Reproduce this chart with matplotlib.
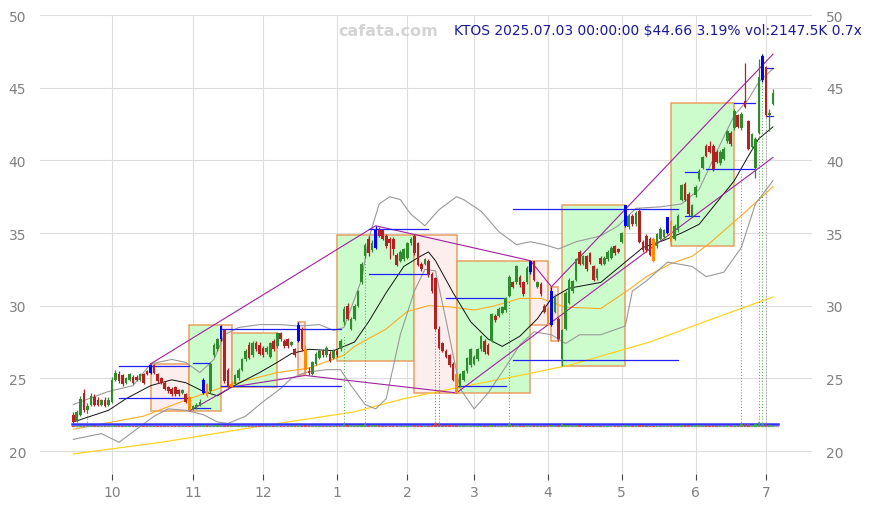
import numpy as np
import pandas as pd
import matplotlib
matplotlib.use('Agg')
import matplotlib.pyplot as plt
from matplotlib.patches import Rectangle

# daily OHLC, Sep 16 2024 .. Jul 3 2025 (one row per month)
opens = [
    22.5, 22.1, 22.5, 24.0, 22.8, 23.2, 23.7, 23.5, 23.2, 23.5, 23.2,
    23.4, 24.9, 25.3, 25.2, 24.7, 24.9, 25.1, 25.1, 24.9, 25.3, 25.5, 25.4, 25.9, 25.3, 25.0, 24.7, 24.4, 24.3, 24.4, 24.2, 24.0, 23.9, 23.7,
    22.9, 23.0, 23.2, 24.0, 24.6, 24.1, 26.6, 27.0, 27.7, 28.3, 25.6, 24.4, 24.6, 25.0, 25.6, 26.3, 27.3, 26.6, 27.4, 27.3,
    27.1, 26.8, 26.5, 27.6, 27.2, 28.1, 27.6, 27.7, 27.3, 27.0, 27.6, 28.3, 27.0, 25.5, 25.3, 26.0, 26.4, 26.9, 26.6, 26.7, 26.4,
    26.9, 27.0, 28.9, 30.0, 28.4, 29.1, 30.0, 31.6, 33.4, 34.6, 33.8, 34.0, 35.2, 35.2, 34.8, 34.6, 34.6, 33.5, 33.1, 33.2,
    33.3, 34.3, 34.8, 34.3, 32.9, 32.9, 33.1, 32.2, 31.9, 28.4, 27.4, 26.9, 26.6, 26.0, 25.3, 24.5, 24.9, 25.5, 25.9,
    26.0, 26.3, 27.0, 27.6, 27.3, 27.6, 29.3, 29.3, 29.5, 29.7, 30.7, 31.6, 31.6, 32.0, 31.6, 31.6, 32.3, 33.1, 31.3, 31.5, 30.0,
    29.8, 28.7, 29.6, 29.1, 26.3, 28.4, 30.2, 31.0, 31.8, 33.7, 32.9, 33.4, 33.6, 32.7, 31.9, 33.3, 32.9, 33.2, 33.3, 34.1, 33.9,
    34.4, 35.5, 35.4, 36.2, 35.6, 36.5, 34.4, 34.8, 34.6, 34.6, 34.1, 34.6, 34.7, 35.0, 35.8, 34.6, 35.2, 37.3, 38.4, 37.7, 36.2,
    37.6, 38.7, 39.5, 41.0, 41.0, 41.0, 40.6, 39.8, 40.1, 41.3, 41.9, 42.2, 43.1, 42.2, 44.1, 42.7, 40.9, 39.5, 41.9, 45.5,
    46.4, 43.1, 43.9]
highs = [
    22.7, 22.8, 23.8, 24.3, 23.3, 24.0, 23.9, 23.7, 23.6, 23.7, 23.7,
    25.1, 25.6, 25.5, 25.3, 25.1, 25.4, 25.2, 25.2, 25.4, 25.4, 25.6, 26.0, 26.0, 25.4, 25.1, 24.8, 24.5, 24.4, 24.5, 24.3, 24.3, 24.0, 23.8,
    23.2, 23.3, 23.6, 25.0, 24.7, 26.1, 27.4, 27.8, 28.7, 28.4, 25.7, 24.8, 25.3, 25.7, 26.4, 27.0, 27.5, 27.6, 27.6, 27.5,
    27.2, 27.2, 27.5, 27.7, 28.2, 28.2, 27.7, 27.8, 27.6, 27.1, 28.9, 28.5, 27.3, 25.8, 26.2, 26.8, 27.0, 27.0, 27.2, 26.9, 27.0,
    27.0, 27.7, 30.0, 30.2, 29.2, 30.1, 31.1, 33.0, 34.3, 34.8, 34.5, 35.5, 35.4, 35.3, 34.9, 34.7, 34.7, 33.6, 33.8, 34.0,
    34.4, 34.7, 34.9, 34.4, 33.0, 33.3, 33.2, 32.3, 32.0, 28.6, 27.5, 27.0, 26.7, 26.1, 25.4, 25.4, 25.6, 26.5, 27.1,
    26.6, 27.1, 28.0, 27.7, 27.4, 29.5, 29.4, 29.9, 30.0, 30.6, 32.1, 31.7, 32.8, 32.1, 31.7, 32.7, 33.1, 33.1, 31.7, 31.6, 30.1,
    29.9, 31.3, 30.8, 29.2, 28.4, 31.0, 31.9, 31.8, 33.3, 33.8, 33.5, 33.5, 33.7, 32.8, 32.6, 33.4, 33.4, 33.8, 34.1, 34.2, 34.0,
    35.1, 36.9, 36.3, 36.3, 36.5, 36.7, 34.5, 34.9, 34.7, 34.7, 35.0, 35.4, 35.3, 36.1, 35.9, 35.6, 36.3, 38.4, 38.5, 37.8, 37.0,
    38.3, 39.4, 40.3, 41.1, 41.3, 41.1, 40.7, 40.7, 40.9, 42.1, 42.0, 43.5, 43.2, 43.3, 46.7, 42.8, 41.9, 41.6, 47.0, 47.3,
    46.5, 43.5, 44.9]
lows = [
    21.9, 22.0, 22.4, 22.7, 22.6, 23.1, 23.1, 23.1, 23.1, 23.0, 23.1,
    23.3, 24.8, 24.7, 24.5, 24.6, 24.8, 24.6, 24.8, 24.8, 24.6, 25.2, 25.3, 25.3, 24.7, 24.6, 24.2, 24.0, 23.8, 23.8, 23.8, 23.9, 23.3, 22.75,
    22.8, 22.9, 23.1, 23.9, 23.7, 24.0, 26.5, 26.9, 27.6, 24.7, 24.4, 24.4, 24.5, 24.9, 25.5, 26.2, 26.3, 26.5, 26.9, 26.6,
    26.5, 26.7, 26.4, 26.9, 27.1, 27.6, 27.1, 27.1, 27.2, 26.5, 27.5, 26.9, 25.2, 25.25, 25.25, 25.9, 26.3, 26.5, 26.5, 26.1, 26.3,
    26.5, 26.9, 28.7, 29.0, 28.3, 29.0, 29.9, 31.5, 33.3, 33.4, 33.7, 33.9, 34.7, 34.5, 34.0, 33.2, 33.5, 32.7, 33.0, 33.1,
    33.2, 34.2, 33.5, 32.7, 32.4, 32.8, 32.0, 30.9, 28.3, 27.0, 26.8, 26.4, 25.8, 24.8, 24.0, 24.4, 24.8, 25.4, 25.8,
    25.9, 26.2, 26.9, 26.7, 26.6, 27.5, 28.9, 29.2, 29.4, 29.6, 30.6, 31.2, 31.5, 31.3, 30.7, 31.5, 32.2, 31.7, 31.2, 30.7, 29.5,
    28.65, 28.6, 29.5, 27.6, 25.85, 28.3, 30.1, 30.9, 31.7, 32.8, 32.8, 32.4, 32.9, 31.7, 31.8, 32.8, 32.8, 33.1, 33.2, 33.5, 33.6,
    34.3, 35.4, 35.3, 35.5, 35.5, 34.3, 33.7, 33.7, 33.4, 33.0, 34.0, 34.5, 34.6, 34.9, 34.1, 34.5, 35.1, 37.2, 37.2, 36.2, 36.1,
    37.5, 38.6, 39.4, 40.2, 40.5, 39.3, 39.8, 39.7, 40.0, 41.2, 41.0, 42.1, 42.2, 42.1, 43.6, 40.7, 40.8, 38.8, 41.8, 45.4,
    43.0, 42.0, 43.8]
closes = [
    22.0, 22.7, 23.6, 22.8, 23.1, 23.8, 23.2, 23.2, 23.5, 23.1, 23.5,
    24.9, 25.4, 24.8, 24.6, 25.0, 25.3, 24.7, 24.9, 25.3, 24.7, 25.3, 25.9, 25.4, 24.8, 24.7, 24.3, 24.1, 23.9, 23.9, 23.9, 24.2, 23.4, 22.8,
    23.1, 23.2, 23.4, 24.9, 23.8, 26.0, 27.3, 27.7, 28.6, 24.8, 24.5, 24.6, 25.2, 25.6, 26.3, 26.9, 26.4, 27.4, 27.0, 26.7,
    26.6, 27.1, 27.4, 27.0, 28.1, 27.7, 27.2, 27.2, 27.5, 26.6, 28.7, 27.0, 25.6, 25.35, 26.1, 26.7, 26.9, 26.6, 27.1, 26.2, 26.9,
    26.6, 27.6, 29.8, 29.1, 29.1, 30.0, 31.0, 32.9, 34.2, 33.6, 34.3, 35.2, 34.8, 34.6, 34.1, 34.3, 33.9, 32.8, 33.7, 33.9,
    34.3, 34.6, 33.6, 32.8, 32.5, 33.2, 32.1, 31.0, 28.4, 27.1, 26.9, 26.5, 25.9, 24.9, 24.0, 25.3, 25.5, 26.4, 27.0,
    26.5, 27.0, 27.9, 26.8, 26.7, 29.4, 29.0, 29.8, 29.9, 30.5, 32.0, 31.3, 32.7, 31.4, 30.8, 32.6, 33.1, 31.8, 31.6, 30.8, 29.6,
    28.7, 31.0, 30.6, 27.7, 28.3, 30.9, 31.8, 31.7, 33.2, 32.9, 33.4, 32.5, 33.0, 31.8, 32.5, 32.9, 33.3, 33.7, 34.0, 33.6, 33.7,
    35.0, 36.9, 36.2, 35.6, 36.4, 34.4, 33.8, 33.8, 33.5, 33.1, 34.9, 35.3, 35.2, 36.1, 34.4, 35.5, 36.2, 38.3, 37.3, 36.3, 36.9,
    38.2, 39.3, 40.2, 40.3, 40.6, 39.4, 39.9, 40.6, 40.8, 42.0, 41.1, 43.4, 42.3, 43.2, 43.7, 40.8, 41.8, 41.5, 45.7, 47.2,
    43.1, 43.28, 44.66]
volume_k = [
    2100, 2600, 3100, 2900, 2200, 2400, 1900, 1800, 2000, 1700, 2300,
    3800, 2600, 2200, 2100, 1900, 2000, 1800, 1700, 2100, 1900, 2200, 3000, 2500, 2300, 2100, 2000, 1900, 1800, 1700, 1900, 1800, 2400, 3300,
    2200, 2000, 2100, 4200, 3500, 5200, 4600, 3900, 4400, 6100, 3700, 2800, 2500, 2600, 2700, 2400, 2500, 2600, 2200, 2100,
    2000, 1900, 2300, 2100, 2800, 2400, 2000, 1900, 1800, 2200, 3600, 3300, 3900, 2600, 2400, 2200, 1900, 1500, 1700, 1800, 1900,
    2300, 2500, 6800, 4800, 3600, 3900, 4400, 5600, 7200, 4800, 3700, 5100, 4200, 3300, 3000, 3800, 3100, 3400, 2800, 2700,
    2900, 2600, 3900, 3600, 2900, 2700, 3200, 4300, 8900, 7600, 4800, 4100, 3900, 4700, 5200, 3900, 3300, 3600, 3800,
    3100, 3000, 3400, 3100, 2900, 5100, 3300, 2900, 2700, 3200, 6200, 3600, 4000, 3300, 3400, 3800, 3500, 3900, 2900, 3000, 3400,
    4100, 4600, 3300, 4200, 6300, 4900, 5600, 3800, 4400, 3800, 2900, 3100, 2700, 3200, 2600, 3000, 2700, 2600, 2800, 2900, 2500,
    3300, 5200, 3400, 3000, 2900, 4600, 3700, 3000, 3100, 3300, 3200, 2800, 2700, 3400, 3700, 2900, 3100, 4900, 4100, 3600, 3100,
    3600, 3900, 4100, 3800, 3200, 4300, 3100, 2900, 2800, 3600, 3000, 3900, 3300, 6400, 7800, 7100, 4200, 6900, 11800, 9600,
    8100, 3900, 2147.5]

# pivot candles drawn in highlight colours
pivot_high_idx = [22, 37, 42, 64, 86, 130, 136, 157, 169, 196]
pivot_low_idx = [33, 38, 45, 66, 109, 135, 165, 170]

# indicator lines: (day index, price)
mid_idx = [0, 10, 15, 22, 28, 32, 37, 41, 45, 53, 58, 62, 67, 74, 80, 84, 89, 94, 98, 101, 103, 108, 113,
           118, 122, 127, 132, 136, 141, 150, 157, 162, 168, 173, 178, 183, 188, 192, 195, 199]
mid_val = [22.0, 22.8, 23.6, 24.5, 24.9, 24.7, 24.1, 23.8, 24.4, 25.4, 26.1, 26.7, 27.0, 26.9, 27.5, 28.9, 30.9, 32.7, 33.3, 33.7, 33.1, 30.9, 28.9,
           27.7, 27.2, 27.9, 29.1, 30.5, 31.2, 31.6, 33.0, 34.0, 34.5, 35.0, 35.6, 37.1, 38.6, 40.3, 41.5, 42.3]
upper_idx = [0, 10, 17, 22, 28, 32, 36, 40, 43, 47, 53, 59, 64, 70, 74, 77, 82, 84, 87, 90, 93, 96, 100, 104, 109, 111,
             116, 121, 126, 130, 134, 138, 143, 150, 155, 160, 167, 173, 178, 183, 188, 192, 195, 199]
upper_val = [23.2, 24.1, 24.5, 26.0, 26.3, 26.1, 25.4, 26.3, 28.0, 28.5, 28.7, 28.7, 28.6, 28.7, 28.3, 28.5, 31.8, 34.6, 37.0, 37.5, 37.3, 36.3, 35.5, 36.6, 37.5, 37.3,
             36.5, 35.1, 34.2, 34.4, 34.2, 33.9, 34.4, 34.8, 35.5, 36.7, 36.8, 37.0, 38.0, 40.6, 43.1, 44.2, 45.4, 46.3]
lower_idx = [0, 8, 13, 18, 23, 27, 32, 37, 41, 44, 49, 54, 59, 62, 66, 72, 76, 79, 83, 86, 89, 93, 97, 100, 103, 106,
             110, 114, 118, 123, 127, 131, 136, 140, 144, 150, 157, 159, 163, 169, 176, 180, 185, 190, 194, 199]
lower_val = [20.8, 21.2, 20.6, 21.5, 22.4, 22.9, 22.8, 22.5, 22.0, 21.9, 22.4, 23.4, 24.3, 25.0, 25.4, 25.6, 25.6, 24.5, 23.2, 22.9, 23.6, 28.0, 31.0, 32.5, 32.4, 29.0,
             24.3, 22.9, 24.0, 25.8, 27.3, 28.2, 28.0, 27.4, 28.0, 28.0, 28.6, 31.0, 31.7, 33.0, 32.7, 32.0, 32.3, 34.0, 37.0, 38.6]
ma50_idx = [0, 20, 33, 45, 58, 67, 77, 80, 89, 95, 101, 108, 114, 120, 127, 133, 140, 150, 158, 163, 170, 176, 181, 190, 195, 199]
ma50_val = [21.5, 22.4, 23.6, 24.6, 25.4, 25.7, 26.6, 27.2, 28.4, 29.6, 30.0, 29.9, 29.7, 30.0, 30.5, 30.5, 29.9, 29.8, 31.1, 32.0, 32.9, 33.4, 34.3, 36.2, 37.3, 38.2]
ma200_idx = [0, 25, 53, 80, 94, 108, 127, 141, 164, 183, 199]
ma200_val = [19.8, 20.6, 21.7, 22.7, 23.6, 24.3, 25.2, 25.9, 27.5, 29.2, 30.6]

# range boxes: start, end, bottom, top, kind
boxes = [(22, 33, 22.75, 26.0, 'down'), (33, 42, 22.75, 28.7, 'up'), (42, 45, 24.4, 28.7, 'down'),
         (45, 58, 24.4, 28.15, 'up'), (64, 66, 25.2, 28.9, 'down'), (75, 97, 26.2, 34.85, 'up'),
         (97, 109, 24.0, 34.85, 'down'), (109, 130, 24.0, 33.1, 'up'), (130, 135, 28.65, 33.1, 'down'),
         (136, 138, 27.6, 31.3, 'down'), (139, 157, 25.85, 36.9, 'up'), (170, 188, 34.1, 43.95, 'up')]

# horizontal levels: price, start, end
levels = [(25.85, 13, 33), (23.65, 13, 33), (26.05, 34, 39), (22.95, 34, 39), (28.4, 42, 76), (24.45, 42, 76),
          (35.25, 84, 101), (32.2, 84, 101), (30.5, 106, 123), (24.45, 109, 123), (36.65, 125, 172), (26.25, 125, 172),
          (36.2, 174, 178), (39.2, 174, 178), (43.95, 188, 194), (39.4, 180, 194), (46.35, 197, 199), (43.05, 197, 199)]

# trend lines through pivots
trend_hi_idx = [22, 86, 130, 136, 199]
trend_hi_val = [26.0, 35.5, 33.1, 31.3, 47.3]
trend_lo_idx = [33, 45, 66, 109, 199]
trend_lo_val = [22.75, 24.4, 25.2, 24.0, 40.2]

# volume spike markers: day index, top price, colour
spikes = [(4, 23.0, 'g'), (77, 28.0, 'g'), (83, 33.5, 'g'), (103, 28.4, 'r'), (104, 27.7, 'r'),
          (124, 30.3, 'g'), (190, 39.3, 'g'), (195, 42.2, 'g'), (196, 47.3, 'g'), (197, 46.5, 'k')]

holidays = pd.to_datetime(['2024-11-28', '2024-12-25', '2025-01-01', '2025-01-09', '2025-01-20',
                           '2025-02-17', '2025-04-18', '2025-05-26', '2025-06-19'])
dates = pd.bdate_range('2024-09-16', '2025-07-03')
dates = dates[~dates.isin(holidays)]
x = np.arange(len(dates))

o = np.array(opens); h = np.array(highs); l = np.array(lows); c = np.array(closes)
vol = np.array(volume_k)

fig = plt.figure(figsize=(8.71, 5.10), dpi=100)
ax = fig.add_axes([40 / 871, 1 - 475 / 510, 772 / 871, 459 / 510])

GREEN = '#2e8b2e'
RED = '#b22222'

for s, e, b, t, kind in boxes:
    fc = '#ccfccc' if kind == 'up' else '#fdeeee'
    ax.add_patch(Rectangle((s, b), e - s, t - b, facecolor=fc, edgecolor='#e8a060', lw=1.1, zorder=1))

ax.plot(ma200_idx, ma200_val, color='#ffd21f', lw=0.9, zorder=2)
ax.plot(ma50_idx, ma50_val, color='#ffaa22', lw=0.8, zorder=2)
ax.plot(upper_idx, upper_val, color='#999999', lw=0.8, zorder=2)
ax.plot(lower_idx, lower_val, color='#999999', lw=0.8, zorder=2)
ax.plot(mid_idx, mid_val, color='#111111', lw=0.7, zorder=2)
ax.plot(trend_hi_idx, trend_hi_val, color='#a020a0', lw=0.8, zorder=2.5)
ax.plot(trend_lo_idx, trend_lo_val, color='#a020a0', lw=0.8, zorder=2.5)

for p, s, e in levels:
    ax.plot([s, e], [p, p], color='#2020ff', lw=0.9, zorder=3)

spike_col = {'g': '#44aa44', 'r': '#cc4444', 'k': '#999999'}
for i, top, k in spikes:
    ax.plot([i, i], [21.8, top], color=spike_col[k], lw=0.7, ls=(0, (1, 2)), zorder=2)

# volume strip along the bottom
vbase = 21.72
ax.plot([x[0] - 0.5, x[-1] + 1.5], [vbase, vbase], color='#aaaaaa', lw=1.0, zorder=3)
ax.plot([x[0] - 0.5, x[-1] + 1.5], [vbase + 0.12, vbase + 0.12], color='#3333ff', lw=1.8, zorder=3)
vcol = np.where(c >= o, '#44aa44', '#cc4444')
ax.bar(x, vol / vol.max() * 0.3, bottom=vbase - 0.05, width=0.7, color=vcol, alpha=0.8, lw=0, zorder=3.5)

# candles
col = np.where(c >= o, GREEN, RED).astype(object)
col[pivot_high_idx] = '#0000ff'
col[pivot_low_idx] = '#ff8c00'
ax.vlines(x, l, h, colors=list(col), lw=0.9, zorder=4)
ax.bar(x, np.maximum(np.abs(c - o), 0.07), bottom=np.minimum(o, c), width=0.75,
       color=list(col), lw=0, zorder=5)

# month ticks
month_start = [i for i in range(1, len(dates)) if dates[i].month != dates[i - 1].month]
ax.set_xticks(month_start)
ax.set_xticklabels([str(dates[i].month) for i in month_start])
ax.set_yticks([20, 25, 30, 35, 40, 45, 50])
ax.set_xlim(-9.47, 210.1)
ax.set_ylim(18.42, 50)
ax.grid(True, color='#dddddd', lw=0.8, zorder=0)
ax.set_axisbelow(True)
for sp in ax.spines.values():
    sp.set_visible(False)
ax.tick_params(axis='y', length=0, labelleft=True, labelright=True, labelsize=10,
               labelcolor='#808080', pad=10)
ax.tick_params(axis='x', length=4, color='#444444', labelsize=10, labelcolor='#808080', pad=4)

fig.text(388 / 871, 1 - 31 / 510, 'cafata.com', ha='center', va='center', fontsize=11.5,
         fontweight='bold', color='#d4d4d4')
last = len(c) - 1
chg = (c[last] / c[last - 1] - 1) * 100
fig.text(862 / 871, 1 - 31 / 510,
         f"KTOS {dates[last]:%Y.%m.%d} 00:00:00 ${c[last]:.2f} {chg:.2f}% vol:{vol[last]:.1f}K 0.7x",
         ha='right', va='center', fontsize=10, color='#1a1a9a')

fig.savefig('out.png', dpi=100)
